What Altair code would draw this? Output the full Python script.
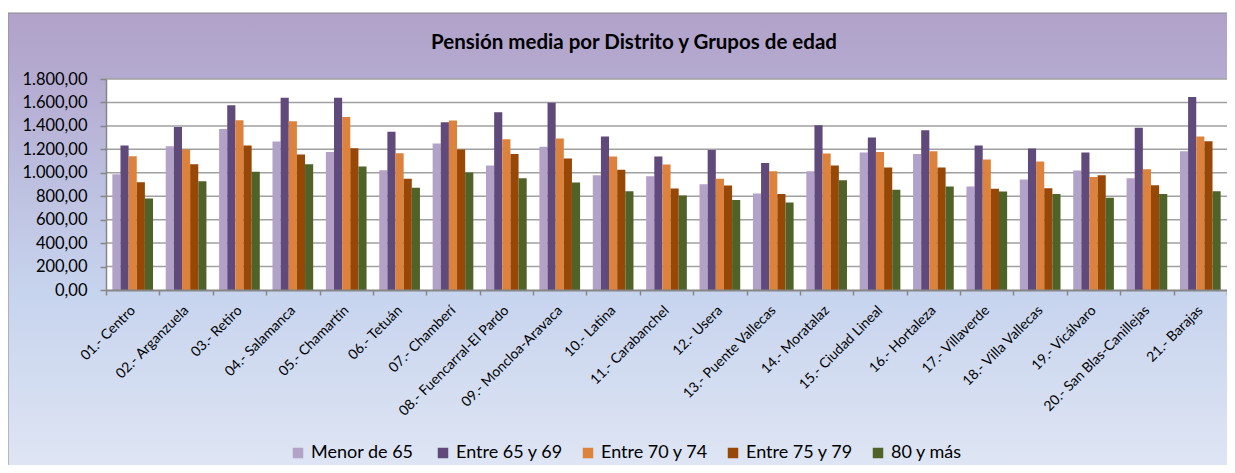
import altair as alt
import pandas as pd

titulo = "Pensión media por Distrito y Grupos de edad"

distritos = [
    "01.- Centro", "02.- Arganzuela", "03.- Retiro", "04.- Salamanca",
    "05.- Chamartín", "06.- Tetuán", "07.- Chamberí", "08.- Fuencarral-El Pardo",
    "09.- Moncloa-Aravaca", "10.- Latina", "11.- Carabanchel", "12.- Usera",
    "13.- Puente Vallecas", "14.- Moratalaz", "15.- Ciudad Lineal", "16.- Hortaleza",
    "17.- Villaverde", "18.- Villa Vallecas", "19.- Vicálvaro",
    "20.- San Blas-Canillejas", "21.- Barajas",
]

grupos = ["Menor de 65", "Entre 65 y 69", "Entre 70 y 74", "Entre 75 y 79", "80 y más"]
colores = ["#b3a2c7", "#604a7b", "#dd823c", "#974806", "#4f6228"]

menor_65 = [988, 1226, 1374, 1266, 1178, 1022, 1249, 1062, 1221, 979, 971, 903, 823, 1014, 1172, 1161, 883, 943, 1019, 954, 1184]
entre_65_69 = [1232, 1391, 1576, 1641, 1641, 1349, 1431, 1516, 1598, 1309, 1138, 1195, 1084, 1405, 1300, 1363, 1232, 1207, 1172, 1385, 1647]
entre_70_74 = [1141, 1201, 1448, 1439, 1476, 1167, 1445, 1286, 1292, 1138, 1070, 948, 1014, 1164, 1178, 1184, 1113, 1096, 965, 1031, 1309]
entre_75_79 = [920, 1073, 1232, 1155, 1209, 948, 1198, 1161, 1121, 1025, 866, 891, 818, 1062, 1045, 1045, 863, 869, 979, 894, 1269]
mas_80 = [781, 928, 1008, 1073, 1053, 872, 1002, 954, 917, 843, 806, 767, 747, 937, 855, 883, 840, 818, 786, 818, 843]

y_ticks = [0, 200, 400, 600, 800, 1000, 1200, 1400, 1600, 1800]

series = [menor_65, entre_65_69, entre_70_74, entre_75_79, mas_80]
rows = []
for g, vals in zip(grupos, series):
    for d, v in zip(distritos, vals):
        rows.append({"distrito": d, "grupo": g, "valor": v})
df = pd.DataFrame(rows)

W, H = 1121, 211
yscale = alt.Scale(domain=[0, 1800], nice=False, zero=True)
one = pd.DataFrame({"k": [0]})

gradient = alt.LinearGradient(
    gradient="linear", x1=0, y1=0, x2=0, y2=1,
    stops=[
        alt.GradientStop(color="#b1a2c9", offset=0),
        alt.GradientStop(color="#b4a9cf", offset=0.12),
        alt.GradientStop(color="#bbbcdd", offset=0.32),
        alt.GradientStop(color="#c7d4ee", offset=0.6),
        alt.GradientStop(color="#e0e6f4", offset=1),
    ],
)

ylabel_expr = (
    "(datum.value >= 1000 ? floor(datum.value / 1000) + '.' + format(datum.value % 1000, '03d')"
    " : format(datum.value, 'd')) + ',00'"
)
y_axis = alt.Axis(title=None, grid=False, values=y_ticks, labelExpr=ylabel_expr,
                  labelFont="Lato", labelFontSize=16.5, labelColor="black",
                  tickColor="#868686", tickSize=6, tickWidth=1.5,
                  domainColor="#868686", domainWidth=1.5, labelPadding=13, zindex=1)

bg = alt.Chart(one).mark_rect(fill=gradient, stroke="#8c8c8c", strokeWidth=1).encode(
    x=alt.value(-98), x2=alt.value(W + 20), y=alt.value(-66), y2=alt.value(400)
)
plotbg = alt.Chart(one).mark_rect(fill="white").encode(
    x=alt.value(0), x2=alt.value(W), y=alt.value(0), y2=alt.value(H)
)
grid = alt.Chart(pd.DataFrame({"valor": y_ticks[1:]})).mark_rule(color="#a0a0a0", strokeWidth=1.5).encode(
    y=alt.Y("valor:Q", scale=yscale, axis=y_axis)
)

bars = alt.Chart(df).mark_bar().encode(
    x=alt.X("distrito:N", sort=distritos, scale=alt.Scale(paddingInner=0, paddingOuter=0),
            axis=alt.Axis(title=None, labelAngle=315, labelAlign="right", labelBaseline="middle",
                          labelFont="Lato", labelFontSize=14, labelColor="black",
                          tickBand="extent", tickSize=5, tickColor="#868686", tickWidth=1.5,
                          domainColor="#868686", domainWidth=2, labelPadding=13, zindex=1)),
    xOffset=alt.XOffset("grupo:N", sort=grupos, scale=alt.Scale(paddingOuter=0.78, paddingInner=0)),
    y=alt.Y("valor:Q", scale=yscale, axis=y_axis),
    color=alt.Color("grupo:N", sort=grupos, scale=alt.Scale(domain=grupos, range=colores),
                    legend=alt.Legend(orient="none", legendX=183, legendY=365, direction="horizontal",
                                      columns=5, gridAlign="all", columnPadding=15,
                                      symbolType="square", symbolSize=110, symbolStrokeWidth=0,
                                      labelFont="Lato", labelFontSize=18, labelColor="black",
                                      labelOffset=4, title=None, zindex=1)),
)

title_mark = alt.Chart(pd.DataFrame({"t": [titulo]})).mark_text(
    font="Lato", fontSize=20.5, fontWeight="bold", color="black", align="center", baseline="middle"
).encode(x=alt.value(528), y=alt.value(-36), text="t:N")

chart = alt.layer(bg, plotbg, grid, bars, title_mark).properties(
    width=W, height=H,
    padding={"left": 98, "top": 71, "right": 0, "bottom": 175},
    autosize=alt.AutoSizeParams(type="none"),
).configure(background="white").configure_view(stroke=None)

chart.save("out.html", embed_options={"renderer": "svg", "actions": False})
